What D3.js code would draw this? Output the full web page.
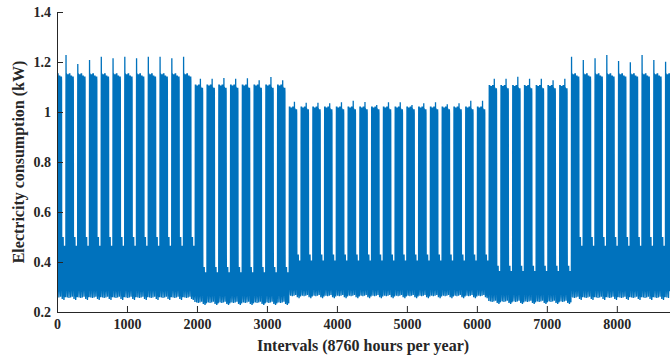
<!DOCTYPE html>
<html>
<head>
<meta charset="utf-8">
<script src="https://cdn.jsdelivr.net/npm/d3@7"></script>
<style>
  body { margin: 0; background: #fff; }
  svg { display: block; }
  .axis text { font-family: "Liberation Serif", "Times New Roman", serif; font-weight: bold; font-size: 14px; fill: #262626; }
  .axis path, .axis line { stroke: #262626; stroke-width: 1; }
  .title { font-family: "Liberation Serif", "Times New Roman", serif; font-weight: bold; font-size: 16px; fill: #262626; }
</style>
</head>
<body>
<div id="chart"></div>
<script>
// hourly load of one year, rebuilt from weekly levels

var xTicks = [0, 1000, 2000, 3000, 4000, 5000, 6000, 7000, 8000],
    yTicks = [0.2, 0.4, 0.6, 0.8, 1, 1.2, 1.4];

// highest spike of every working week (53 weeks, year starts on a Wednesday)
var weekPeak = [1.155, 1.228, 1.192, 1.208, 1.221, 1.215, 1.221, 1.215, 1.221, 1.221, 1.215, 1.221,
                1.133, 1.133, 1.136, 1.133, 1.135, 1.127, 1.140, 1.127,
                1.041, 1.037, 1.037, 1.035, 1.039, 1.045, 1.040, 1.028, 1.039, 1.039, 1.028, 1.035,
                1.039, 1.031, 1.035, 1.045, 1.045,
                1.133, 1.133, 1.141, 1.133, 1.133, 1.127, 1.133,
                1.221, 1.208, 1.215, 1.228, 1.204, 1.199, 1.228, 1.208, 1.201];

// season of every week: 0 winter, 1 spring, 2 summer, 3 autumn
var weekSeason = [0, 0, 0, 0, 0, 0, 0, 0, 0, 0, 0, 0,
                  1, 1, 1, 1, 1, 1, 1, 1,
                  2, 2, 2, 2, 2, 2, 2, 2, 2, 2, 2, 2, 2, 2, 2, 2, 2,
                  3, 3, 3, 3, 3, 3, 3,
                  0, 0, 0, 0, 0, 0, 0, 0, 0];

var seasonMain = [1.155, 1.110, 1.022, 1.108],       // weekday plateau (kW)
    seasonWeekendTop = [0.50, 0.38, 0.43, 0.385],     // weekend maximum (kW)
    seasonBase = [0.256, 0.236, 0.263, 0.240];        // night base (kW)

// share of (plateau - base) for each hour of a working day
var dayShape = [0.02, 0.01, 0.0, 0.01, 0.02, 0.05, 0.22, 0.80, 1.0, 0.99, 0.98, 1.0,
                0.95, 0.99, 1.0, 0.99, 0.98, 0.65, 0.27, 0.17, 0.12, 0.08, 0.04, 0.03];
var weekdayFactor = [1.0, 0.995, 1.0, 0.99, 0.985];   // Mon..Fri
// share of (weekend top - base) for each hour of a weekend day
var weekendShape = [0.05, 0.02, 0.0, 0.02, 0.05, 0.10, 0.30, 0.60, 0.85, 1.0, 0.95, 0.90,
                    0.85, 0.90, 0.95, 1.0, 0.90, 0.70, 0.50, 0.35, 0.25, 0.15, 0.10, 0.05];
var weekendFactor = [1.0, 0.86];                       // Sat, Sun
var baseOffset = [0.004, 0.002, 0.0, 0.002, 0.005, -0.004, -0.008]; // Mon..Sun

var load = [];
for (var d = 0; d < 365; d++) {
  var dow = (d + 2) % 7,              // 0 = Monday
      k = Math.floor((d + 2) / 7),
      s = weekSeason[k],
      base = seasonBase[s] + baseOffset[dow];
  var peakDow = s === 0 ? (k === 0 ? 2 : 0) : 3;
  for (var h = 0; h < 24; h++) {
    var v;
    if (dow < 5) {
      v = base + (seasonMain[s] - base) * dayShape[h] * weekdayFactor[dow];
      if (dow === peakDow && h === 8) v = weekPeak[k];
    } else {
      v = base + (seasonWeekendTop[s] - base) * weekendShape[h] * weekendFactor[dow - 5];
    }
    load.push(v);
  }
}

var width = 670,
    height = 360,
    margin = {top: 12, right: 0, bottom: 48, left: 57};

var x = d3.scaleLinear()
    .domain([0, 8760])
    .range([margin.left, width - margin.right]);

var y = d3.scaleLinear()
    .domain([0.2, 1.4])
    .range([height - margin.bottom, margin.top]);

var svg = d3.select("#chart").append("svg")
    .attr("width", width)
    .attr("height", height);

svg.append("clipPath")
    .attr("id", "clip")
  .append("rect")
    .attr("x", margin.left)
    .attr("y", margin.top)
    .attr("width", width - margin.left - margin.right)
    .attr("height", height - margin.top - margin.bottom);

var line = d3.line()
    .x(function(d, i) { return x(i + 1); })
    .y(function(d) { return y(d); });

svg.append("path")
    .datum(load)
    .attr("clip-path", "url(#clip)")
    .attr("fill", "none")
    .attr("stroke", "#0072BD")
    .attr("stroke-width", 1.3)
    .attr("d", line);

svg.append("g")
    .attr("class", "axis")
    .attr("transform", "translate(0," + (height - margin.bottom) + ")")
    .call(d3.axisBottom(x).tickValues(xTicks).tickSize(-6).tickPadding(7).tickSizeOuter(0)
      .tickFormat(d3.format("d")));

svg.append("g")
    .attr("class", "axis")
    .attr("transform", "translate(" + margin.left + ",0)")
    .call(d3.axisLeft(y).tickValues(yTicks).tickSize(-6).tickPadding(6).tickSizeOuter(0)
      .tickFormat(function(d) { return d3.format(".1f")(d).replace(/\.0$/, ""); }));

svg.append("text")
    .attr("class", "title")
    .attr("x", 363)
    .attr("y", 351)
    .attr("text-anchor", "middle")
    .text("Intervals (8760 hours per year)");

svg.append("text")
    .attr("class", "title")
    .attr("transform", "translate(24," + (margin.top + (height - margin.bottom - margin.top) / 2) + ") rotate(-90)")
    .attr("text-anchor", "middle")
    .text("Electricity consumption (kW)");
</script>
</body>
</html>
